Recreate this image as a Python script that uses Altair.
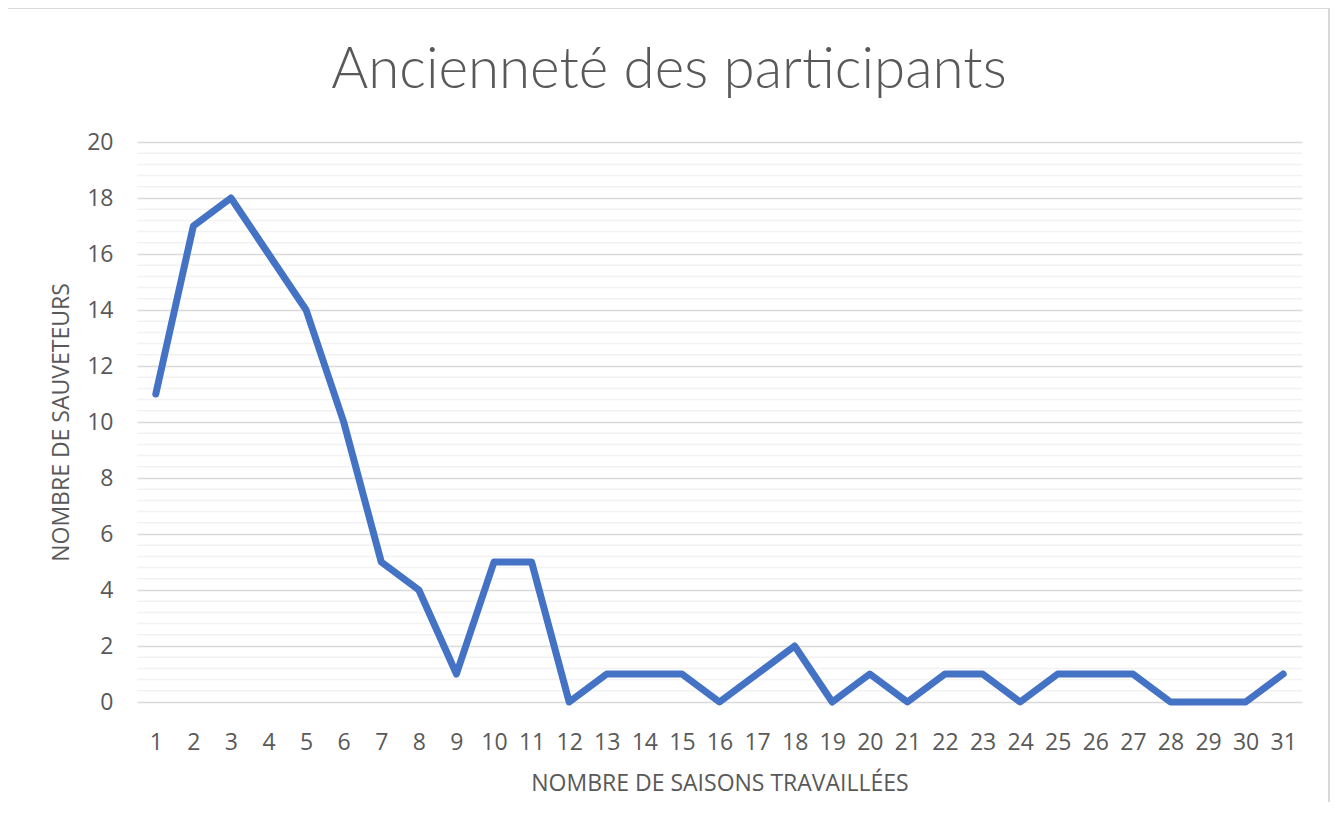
import altair as alt
import pandas as pd

saisons = list(range(1, 32))
sauveteurs = [11, 17, 18, 16, 14, 10, 5, 4, 1, 5, 5, 0, 1, 1, 1, 0, 1, 2, 0, 1, 0, 1, 1, 0, 1, 1, 1, 0, 0, 0, 1]
major_ticks = [0, 2, 4, 6, 8, 10, 12, 14, 16, 18, 20]
minor_ticks = [round(i * 0.4, 1) for i in range(1, 50) if i % 5 != 0]

df = pd.DataFrame({"saison": saisons, "n": sauveteurs})
minor_df = pd.DataFrame({"v": minor_ticks})

FONT = "Open Sans"
TFONT = "Lato"
GREY = "#595959"

yscale = alt.Scale(domain=[0, 20], nice=False)
xscale = alt.Scale(domain=[0.5, 31.5], nice=False, zero=False)

minor = alt.Chart(minor_df).mark_rule(color="#f2f2f2", strokeWidth=1.5).encode(
    y=alt.Y("v:Q", scale=yscale)
)

line = alt.Chart(df).mark_line(
    color="#4472C4", strokeWidth=7, strokeJoin="round", strokeCap="round"
).encode(
    x=alt.X("saison:Q", scale=xscale,
            axis=alt.Axis(values=saisons, grid=False, domain=False, ticks=False,
                          labelFontSize=23, labelColor=GREY, labelFont=FONT,
                          labelPadding=29, title="NOMBRE DE SAISONS TRAVAILLÉES",
                          titleFont=FONT, titleFontSize=23, titleFontWeight="normal",
                          titleColor=GREY, titlePadding=18, labelFlush=False)),
    y=alt.Y("n:Q", scale=yscale,
            axis=alt.Axis(values=major_ticks, grid=True, gridColor="#d9d9d9", gridWidth=1.5,
                          domain=False, ticks=False, labelFontSize=23, labelColor=GREY,
                          labelFont=FONT, labelPadding=24, title="NOMBRE DE SAUVETEURS",
                          titleFont=FONT, titleFontSize=23, titleFontWeight="normal",
                          titleColor=GREY, titlePadding=13)),
)

title = alt.Chart(pd.DataFrame({"t": ["Ancienneté des participants"]})).mark_text(
    font=TFONT, fontSize=56.5, fontWeight=300, color=GREY, align="center", baseline="alphabetic"
).encode(text="t:N", x=alt.value(532), y=alt.value(-54))

border = alt.Chart(df).mark_rect(fill=None, stroke="#d9d9d9", strokeWidth=2).encode(
    x=alt.value(-132), x2=alt.value(1192), y=alt.value(-134), y2=alt.value(700)
)

chart = alt.layer(minor, line, title, border).properties(
    width=1165, height=560,
    padding={"left": 129, "top": 134, "right": 28, "bottom": 100},
    autosize=alt.AutoSizeParams(type="none"),
).configure_view(stroke=None)

chart.save("out.html", embed_options={"renderer": "svg", "actions": False})
